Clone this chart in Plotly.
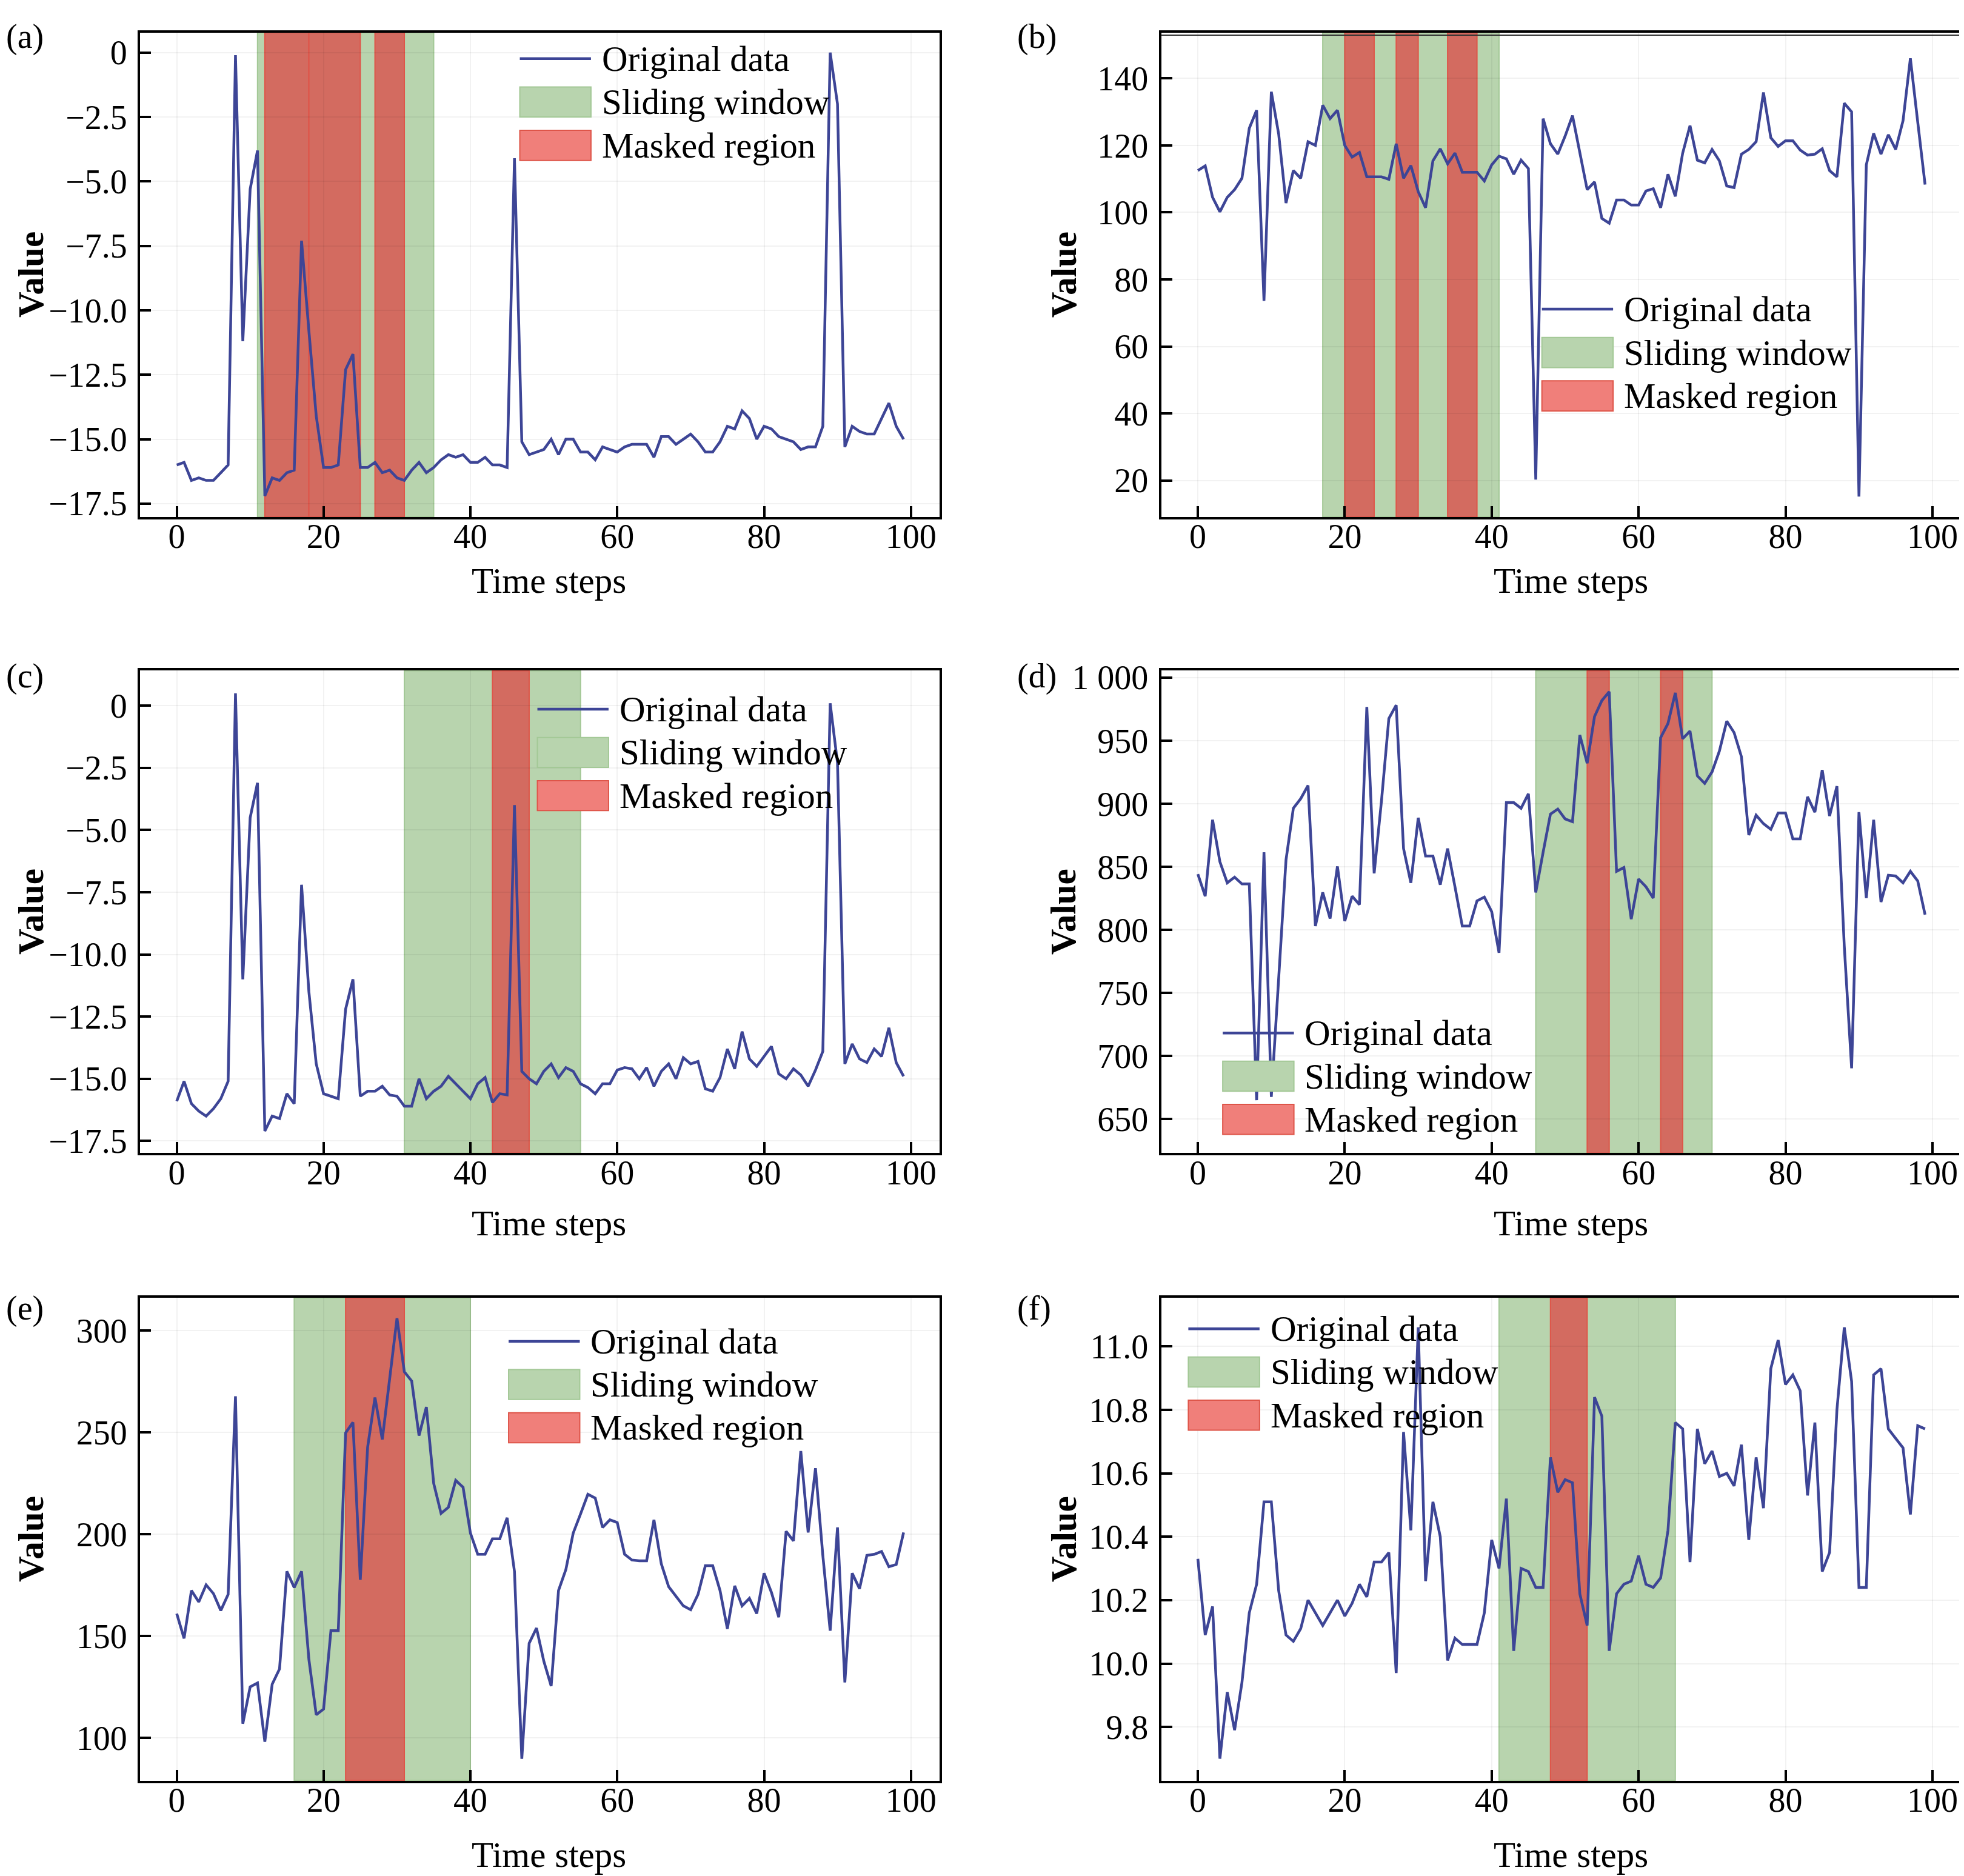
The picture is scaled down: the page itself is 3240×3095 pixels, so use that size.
import plotly.graph_objects as go

# time axis shared by all panels
steps = list(range(100))

# series values
val_a = [-16.0, -15.9, -16.6, -16.5, -16.6, -16.6, -16.3, -16.0, -0.1, -11.2,
         -5.3, -3.8, -17.2, -16.5, -16.6, -16.3, -16.2, -7.3, -10.8, -14.1,
         -16.1, -16.1, -16.0, -12.3, -11.7, -16.1, -16.1, -15.9, -16.3, -16.2,
         -16.5, -16.6, -16.2, -15.9, -16.3, -16.1, -15.8, -15.6, -15.7, -15.6,
         -15.9, -15.9, -15.7, -16.0, -16.0, -16.1, -4.1, -15.1, -15.6, -15.5,
         -15.4, -15.0, -15.6, -15.0, -15.0, -15.5, -15.5, -15.8, -15.3, -15.4,
         -15.5, -15.3, -15.2, -15.2, -15.2, -15.7, -14.9, -14.9, -15.2, -15.0,
         -14.8, -15.1, -15.5, -15.5, -15.1, -14.5, -14.6, -13.9, -14.2, -15.0,
         -14.5, -14.6, -14.9, -15.0, -15.1, -15.4, -15.3, -15.3, -14.5, 0.0,
         -2.0, -15.3, -14.5, -14.7, -14.8, -14.8, -14.2, -13.6, -14.5, -15.0]

val_b = [112.5, 113.9, 104.5, 100.2, 104.5, 106.8, 110.2, 125.1, 130.5, 73.6,
         136.0, 123.4, 102.8, 112.5, 110.2, 121.1, 120.0, 132.0, 128.0, 130.5,
         120.0, 116.5, 117.9, 110.6, 110.6, 110.6, 109.9, 120.5, 110.2, 114.0,
         106.2, 101.4, 115.4, 119.0, 114.5, 117.7, 112.0, 112.0, 112.0, 109.4,
         114.2, 116.8, 116.0, 111.4, 115.6, 113.1, 20.3, 128.0, 120.5, 117.4,
         122.8, 128.9, 117.7, 106.8, 109.1, 98.2, 96.8, 103.7, 103.7, 102.2,
         102.2, 106.4, 107.1, 101.4, 111.4, 104.8, 117.7, 125.9, 115.6, 114.8,
         118.8, 115.4, 107.9, 107.4, 117.4, 118.8, 121.1, 135.8, 122.3, 119.7,
         121.4, 121.4, 118.6, 117.1, 117.4, 119.0, 112.5, 110.6, 132.6, 130.0,
         15.2, 114.2, 123.6, 117.4, 123.2, 118.8, 127.4, 146.0, 127.0, 108.3]

val_c = [-15.9, -15.1, -16.0, -16.3, -16.5, -16.2, -15.8, -15.1, 0.5, -11.0,
         -4.5, -3.1, -17.1, -16.5, -16.6, -15.6, -16.0, -7.2, -11.5, -14.4,
         -15.6, -15.7, -15.8, -12.2, -11.0, -15.7, -15.5, -15.5, -15.3, -15.65,
         -15.7, -16.1, -16.1, -15.0, -15.8, -15.5, -15.3, -14.9, -15.2, -15.5,
         -15.8, -15.2, -14.95, -15.95, -15.6, -15.65, -4.0, -14.7, -15.0, -15.2,
         -14.7, -14.4, -14.95, -14.55, -14.7, -15.2, -15.35, -15.6, -15.2, -15.2,
         -14.65, -14.55, -14.6, -15.0, -14.55, -15.3, -14.7, -14.4, -15.0, -14.15,
         -14.4, -14.3, -15.4, -15.5, -14.95, -13.8, -14.6, -13.1, -14.2, -14.5,
         -14.1, -13.7, -14.8, -15.0, -14.6, -14.85, -15.3, -14.65, -13.9, 0.1,
         -2.3, -14.4, -13.6, -14.2, -14.35, -13.8, -14.1, -12.95, -14.35, -14.9]

val_d = [844.2, 826.7, 887.3, 854.0, 837.3, 841.8, 836.4, 836.4, 665.0, 861.5,
         667.6, 760.0, 855.5, 896.4, 904.0, 914.5, 803.0, 829.7, 809.0, 850.3,
         807.0, 826.7, 820.0, 976.7, 844.8, 902.4, 967.6, 978.2, 864.5, 837.3,
         888.8, 858.5, 858.5, 835.8, 864.5, 834.2, 803.0, 803.0, 823.0, 826.0,
         814.5, 781.8, 900.9, 900.9, 896.4, 907.9, 829.7, 861.5, 891.8, 895.8,
         887.9, 885.8, 954.5, 932.1, 969.1, 981.8, 988.8, 846.4, 849.4, 808.5,
         840.3, 834.2, 825.2, 952.4, 963.6, 987.9, 951.5, 957.6, 922.1, 916.1,
         925.2, 941.8, 965.5, 956.4, 937.3, 875.2, 890.9, 884.2, 879.7, 892.7,
         892.7, 872.1, 872.1, 905.5, 893.3, 926.7, 890.3, 913.9, 787.3, 690.3,
         893.3, 825.2, 887.3, 822.1, 843.3, 842.7, 837.3, 846.4, 838.8, 812.1]

val_e = [161.0, 148.8, 172.3, 166.7, 175.1, 170.8, 162.5, 170.4, 267.7, 106.9,
         125.0, 126.9, 98.1, 126.3, 133.8, 181.7, 173.8, 181.7, 138.5, 111.3,
         114.1, 152.6, 152.6, 249.7, 254.9, 177.6, 242.7, 267.1, 246.5, 277.5,
         306.0, 279.7, 275.2, 248.4, 262.4, 224.9, 210.2, 213.2, 226.4, 223.0,
         200.5, 190.1, 190.1, 197.7, 197.7, 208.0, 181.7, 89.7, 146.4, 153.9,
         137.6, 125.4, 172.3, 182.6, 200.5, 209.9, 219.6, 217.7, 203.3, 207.0,
         205.7, 190.1, 187.3, 186.9, 186.9, 207.0, 185.4, 174.2, 169.5, 164.8,
         162.9, 170.4, 184.5, 184.5, 172.3, 153.5, 174.6, 164.8, 168.5, 161.0,
         180.8, 171.4, 159.2, 201.4, 196.7, 240.8, 200.8, 232.4, 189.6, 152.6,
         203.3, 127.2, 180.8, 173.2, 189.6, 190.1, 191.5, 184.0, 185.1, 200.8]

val_f = [10.33, 10.09, 10.18, 9.70, 9.91, 9.79, 9.94, 10.16, 10.25, 10.51,
         10.51, 10.23, 10.09, 10.07, 10.11, 10.20, 10.16, 10.12, 10.16, 10.20,
         10.15, 10.19, 10.25, 10.21, 10.32, 10.32, 10.35, 9.97, 10.73, 10.42,
         11.06, 10.26, 10.51, 10.40, 10.01, 10.08, 10.06, 10.06, 10.06, 10.16,
         10.39, 10.30, 10.52, 10.04, 10.30, 10.29, 10.24, 10.24, 10.65, 10.54,
         10.58, 10.57, 10.22, 10.12, 10.84, 10.78, 10.04, 10.22, 10.25, 10.26,
         10.34, 10.25, 10.24, 10.27, 10.42, 10.76, 10.74, 10.32, 10.74, 10.63,
         10.67, 10.59, 10.60, 10.56, 10.69, 10.39, 10.65, 10.49, 10.93, 11.02,
         10.88, 10.91, 10.86, 10.53, 10.76, 10.29, 10.35, 10.80, 11.06, 10.89,
         10.24, 10.24, 10.91, 10.93, 10.74, 10.71, 10.68, 10.47, 10.75, 10.74]

# sliding window and masked spans (start, end) in time steps
window_a = [(11, 35)]
masked_a = [(12, 18), (18, 25), (27, 31)]
window_b = [(17, 41)]
masked_b = [(20, 24), (27, 30), (34, 38)]
window_c = [(31, 55)]
masked_c = [(43, 48)]
window_d = [(46, 70)]
masked_d = [(53, 56), (63, 66)]
window_e = [(16, 40)]
masked_e = [(23, 31)]
window_f = [(41, 65)]
masked_f = [(48, 53)]

# tick values / labels
x_ticks = [0, 20, 40, 60, 80, 100]
ytick_a = [0, -2.5, -5.0, -7.5, -10.0, -12.5, -15.0, -17.5]
ytext_a = ["0", "\u22122.5", "\u22125.0", "\u22127.5", "\u221210.0", "\u221212.5", "\u221215.0", "\u221217.5"]
ytick_b = [20, 40, 60, 80, 100, 120, 140]
ytext_b = ["20", "40", "60", "80", "100", "120", "140"]
ytick_d = [650, 700, 750, 800, 850, 900, 950, 1000]
ytext_d = ["650", "700", "750", "800", "850", "900", "950", "1 000"]
ytick_e = [100, 150, 200, 250, 300]
ytext_e = ["100", "150", "200", "250", "300"]
ytick_f = [9.8, 10.0, 10.2, 10.4, 10.6, 10.8, 11.0]
ytext_f = ["9.8", "10.0", "10.2", "10.4", "10.6", "10.8", "11.0"]

labels = ["Original data", "Sliding window", "Masked region"]
panel_names = ["(a)", "(b)", "(c)", "(d)", "(e)", "(f)"]

FONT = "Liberation Serif"
LINE = "#3D4596"
GREEN = "#B8D4AE"
GREEN_EDGE = "#A3C896"
RED = "#D36B60"
RED_EDGE = "#DE5549"
RED_PATCH = "#F07F7A"

panels = [
    dict(y=val_a, win=window_a, mask=masked_a, yr=[-18.02, 0.78], tv=ytick_a, tt=ytext_a),
    dict(y=val_b, win=window_b, mask=masked_b, yr=[9.1, 153.7], tv=ytick_b, tt=ytext_b),
    dict(y=val_c, win=window_c, mask=masked_c, yr=[-17.99, 1.41], tv=ytick_a, tt=ytext_a),
    dict(y=val_d, win=window_d, mask=masked_d, yr=[623.0, 1005.5], tv=ytick_d, tt=ytext_d),
    dict(y=val_e, win=window_e, mask=masked_e, yr=[79.0, 316.0], tv=ytick_e, tt=ytext_e),
    dict(y=val_f, win=window_f, mask=masked_f, yr=[9.631, 11.153], tv=ytick_f, tt=ytext_f),
]

# layout (the page body adds an 8px margin, so the figure is 16px smaller)
W, H = 3232, 3087
col_dom = [[0.0690, 0.4771], [0.5902, 0.9985]]
row_dom = [[0.7298, 0.9913], [0.3865, 0.6469], [0.0479, 0.3084]]
legend_pos = [(0.475, 0.946), (0.476, 0.429), (0.497, 0.920),
              (0.077, 0.249), (0.461, 0.910), (0.034, 0.936)]
xtitle_x = [0.2778, 0.7992]
xtitle_off = [0.0345, 0.0379, 0.0400]
ytitle_x = [0.0135, 0.5405]
tag_x = [0.0, 0.516]
tag_y = [1.0, 0.6440, 0.3026]
tag_anchor = ["top", "middle", "middle"]

fig = go.Figure()
shapes = []
annotations = []
layout = {}

for i, p in enumerate(panels):
    n = i + 1
    sfx = "" if n == 1 else str(n)
    xa, ya = "x" + sfx, "y" + sfx
    col, row = i % 2, i // 2

    fig.add_trace(go.Scatter(x=steps, y=p["y"], mode="lines", xaxis=xa, yaxis=ya,
                             line=dict(color=LINE, width=4.5), showlegend=False,
                             name=labels[0]))

    for (s, e) in p["win"]:
        shapes.append(dict(type="rect", xref=xa, yref=ya + " domain", x0=s, x1=e, y0=0, y1=1,
                           fillcolor=GREEN, line=dict(color=GREEN_EDGE, width=2), layer="below"))
    for (s, e) in p["mask"]:
        shapes.append(dict(type="rect", xref=xa, yref=ya + " domain", x0=s, x1=e, y0=0, y1=1,
                           fillcolor=RED, line=dict(color=RED_EDGE, width=2), layer="below"))

    axis_common = dict(showline=True, mirror=True, linecolor="black", linewidth=4,
                       ticks="inside", ticklen=18, tickwidth=4, tickcolor="black",
                       showgrid=True, gridcolor="rgba(0,0,0,0.05)", gridwidth=1.5, zeroline=False,
                       tickfont=dict(family=FONT, size=56, color="black"))
    layout["xaxis" + sfx] = dict(axis_common, domain=col_dom[col], anchor=ya,
                                 range=[-5.0, 103.9], tickvals=x_ticks, ticklabelstandoff=-20)
    layout["yaxis" + sfx] = dict(axis_common, domain=row_dom[row], anchor=xa,
                                 range=p["yr"], tickvals=p["tv"], ticktext=p["tt"],
                                 ticklabelstandoff=6)

    # manual legend (matplotlib-style swatches)
    lx, ly = legend_pos[i]
    dy = 0.0895
    sw = 0.089
    ph = 0.031
    shapes.append(dict(type="line", xref=xa + " domain", yref=ya + " domain",
                       x0=lx, x1=lx + sw, y0=ly, y1=ly, line=dict(color=LINE, width=4.5)))
    shapes.append(dict(type="rect", xref=xa + " domain", yref=ya + " domain",
                       x0=lx, x1=lx + sw, y0=ly - dy - ph, y1=ly - dy + ph,
                       fillcolor=GREEN, line=dict(color=GREEN_EDGE, width=2)))
    shapes.append(dict(type="rect", xref=xa + " domain", yref=ya + " domain",
                       x0=lx, x1=lx + sw, y0=ly - 2 * dy - ph, y1=ly - 2 * dy + ph,
                       fillcolor=RED_PATCH, line=dict(color=RED_EDGE, width=2)))
    for k, lab in enumerate(labels):
        annotations.append(dict(text=lab, xref=xa + " domain", yref=ya + " domain",
                                x=lx + 0.101, y=ly - k * dy, xanchor="left", yanchor="middle",
                                showarrow=False, font=dict(family=FONT, size=59, color="black")))

    # axis titles and panel tags
    annotations.append(dict(text="Time steps", xref="paper", yref="paper",
                            x=xtitle_x[col], y=row_dom[row][0] - xtitle_off[row],
                            xanchor="center", yanchor="middle", showarrow=False,
                            font=dict(family=FONT, size=59, color="black")))
    annotations.append(dict(text="<b>Value</b>", xref="paper", yref="paper",
                            x=ytitle_x[col], y=sum(row_dom[row]) / 2, textangle=-90,
                            xanchor="center", yanchor="middle", showarrow=False,
                            font=dict(family=FONT, size=59, color="black")))
    annotations.append(dict(text=panel_names[i], xref="paper", yref="paper",
                            x=tag_x[col], y=tag_y[row], xanchor="left", yanchor=tag_anchor[row],
                            showarrow=False, font=dict(family=FONT, size=56, color="black")))

# thin line just under the top frame of panel (b)
shapes.append(dict(type="line", xref="x2 domain", yref="y2", x0=0, x1=1, y0=152.9, y1=152.9,
                   line=dict(color="#333333", width=2)))

fig.update_layout(width=W, height=H, margin=dict(l=0, r=0, t=0, b=0),
                  paper_bgcolor="white", plot_bgcolor="white",
                  shapes=shapes, annotations=annotations, showlegend=False, **layout)

fig.write_html("out.html")
